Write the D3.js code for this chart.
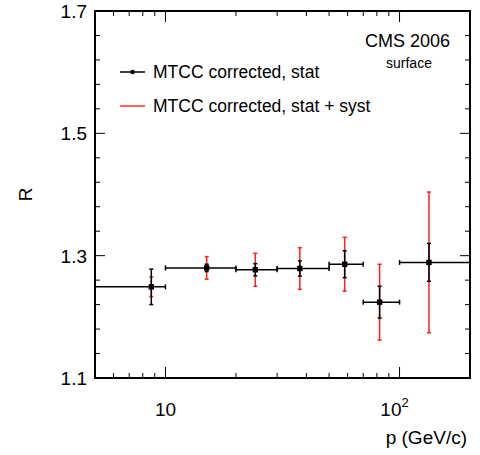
<!DOCTYPE html>
<html lang="en">
<head>
<meta charset="utf-8">
<title>MTCC charge ratio</title>
<style>
body {
  margin: 0;
  background: white;
}
text {
  font-family: "Liberation Sans", Arial, sans-serif;
  fill: black;
}
.tickLabel { font-size: 19px; }
.legendText { font-size: 17.5px; }
</style>
</head>
<body>
<div id="chart"></div>
<script src="https://d3js.org/d3.v7.min.js"></script>
<script>
// momentum bins (GeV/c) and mean momentum in each bin
var pMid  = [8.7, 15.0, 24.2, 37.5, 58.3, 82.2, 133.6];
var pLow  = [5, 10, 20, 30, 50, 70, 100];
var pHigh = [10, 20, 30, 50, 70, 100, 200];
// charge ratio and errors
var ratio   = [1.249, 1.280, 1.277, 1.279, 1.286, 1.224, 1.289];
var errStat = [0.029, 0.006, 0.010, 0.0125, 0.022, 0.026, 0.031];
var errTot  = [0.016, 0.0185, 0.027, 0.034, 0.044, 0.062, 0.115];
var yMajor = [1.1, 1.3, 1.5, 1.7];
var xMajor = [10, 100];
var xMinor = [6, 7, 8, 9, 20, 30, 40, 50, 60, 70, 80, 90];

var W = 480, H = 455;
var margin = { top: 11, right: 10, bottom: 77, left: 95 };
var width = W - margin.left - margin.right;
var height = H - margin.top - margin.bottom;

var x = d3.scaleLog().domain([5, 200]).range([0, width]);
var y = d3.scaleLinear().domain([1.1, 1.7]).range([height, 0]);

var svg = d3.select('#chart').append('svg')
  .attr('width', W).attr('height', H);
var g = svg.append('g')
  .attr('transform', 'translate(' + margin.left + ',' + margin.top + ')');

svg.append('defs').append('clipPath').attr('id', 'clip')
  .append('rect').attr('width', width).attr('height', height);

// ticks on all four sides, pointing inward
var yMinor = d3.range(1.14, 1.7, 0.04).filter(function(v) {
  return yMajor.every(function(m) { return Math.abs(m - v) > 0.001; });
});
var ticks = g.append('g').attr('stroke', 'black').attr('stroke-width', 1);
yMajor.forEach(function(v) {
  ticks.append('line').attr('x1', 0).attr('x2', 10).attr('y1', y(v)).attr('y2', y(v));
  ticks.append('line').attr('x1', width).attr('x2', width - 10).attr('y1', y(v)).attr('y2', y(v));
});
yMinor.forEach(function(v) {
  ticks.append('line').attr('x1', 0).attr('x2', 5).attr('y1', y(v)).attr('y2', y(v));
  ticks.append('line').attr('x1', width).attr('x2', width - 5).attr('y1', y(v)).attr('y2', y(v));
});
xMajor.forEach(function(v) {
  ticks.append('line').attr('x1', x(v)).attr('x2', x(v)).attr('y1', height).attr('y2', height - 11);
  ticks.append('line').attr('x1', x(v)).attr('x2', x(v)).attr('y1', 0).attr('y2', 11);
});
xMinor.forEach(function(v) {
  ticks.append('line').attr('x1', x(v)).attr('x2', x(v)).attr('y1', height).attr('y2', height - 5);
  ticks.append('line').attr('x1', x(v)).attr('x2', x(v)).attr('y1', 0).attr('y2', 5);
});

// tick labels
yMajor.forEach(function(v) {
  g.append('text').attr('class', 'tickLabel')
    .attr('x', -8).attr('y', y(v)).attr('dy', '0.36em')
    .attr('text-anchor', 'end').text(v.toFixed(1));
});
g.append('text').attr('class', 'tickLabel')
  .attr('x', x(10)).attr('y', height + 38).attr('text-anchor', 'middle').text('10');
var t100 = g.append('text').attr('class', 'tickLabel')
  .attr('x', x(100) - 5).attr('y', height + 38).attr('text-anchor', 'middle');
t100.append('tspan').text('10');
t100.append('tspan').attr('dy', -9).style('font-size', '13px').text('2');

// axis titles
g.append('text').attr('class', 'tickLabel')
  .attr('x', width - 3).attr('y', height + 66).attr('text-anchor', 'end')
  .text('p (GeV/c)');
g.append('text').attr('class', 'tickLabel')
  .attr('transform', 'translate(' + (-63) + ',' + y(1.4) + ') rotate(-90)')
  .attr('text-anchor', 'middle').text('R');

// data
var data = pMid.map(function(p, i) {
  return { p: p, lo: pLow[i], hi: pHigh[i], r: ratio[i], s: errStat[i], t: errTot[i] };
});
var plot = g.append('g').attr('clip-path', 'url(#clip)');

// stat + syst (red) drawn first
var red = plot.append('g').attr('stroke', '#ff2020').attr('stroke-width', 1.5);
data.forEach(function(d) {
  red.append('line').attr('x1', x(d.p)).attr('x2', x(d.p))
    .attr('y1', y(d.r - d.t)).attr('y2', y(d.r + d.t));
  [d.r - d.t, d.r + d.t].forEach(function(v) {
    red.append('line').attr('x1', x(d.p) - 2).attr('x2', x(d.p) + 2)
      .attr('y1', y(v)).attr('y2', y(v));
  });
});

// stat (black)
var blk = plot.append('g').attr('stroke', 'black').attr('stroke-width', 1.5);
data.forEach(function(d) {
  blk.append('line').attr('x1', x(d.lo)).attr('x2', x(d.hi))
    .attr('y1', y(d.r)).attr('y2', y(d.r));
  [d.lo, d.hi].forEach(function(v) {
    blk.append('line').attr('x1', x(v)).attr('x2', x(v))
      .attr('y1', y(d.r) - 2.5).attr('y2', y(d.r) + 2.5);
  });
  blk.append('line').attr('x1', x(d.p)).attr('x2', x(d.p))
    .attr('y1', y(d.r - d.s)).attr('y2', y(d.r + d.s));
  [d.r - d.s, d.r + d.s].forEach(function(v) {
    blk.append('line').attr('x1', x(d.p) - 2).attr('x2', x(d.p) + 2)
      .attr('y1', y(v)).attr('y2', y(v));
  });
});
plot.selectAll('rect.pt').data(data).enter().append('rect')
  .attr('class', 'pt')
  .attr('x', function(d) { return x(d.p) - 2.7; })
  .attr('y', function(d) { return y(d.r) - 2.7; })
  .attr('width', 5.4).attr('height', 5.4)
  .attr('fill', 'black');

// frame
g.append('rect').attr('width', width).attr('height', height)
  .attr('fill', 'none').attr('stroke', 'black').attr('stroke-width', 2);

// legend
var leg = svg.append('g');
leg.append('line').attr('x1', 120).attr('x2', 145).attr('y1', 72).attr('y2', 72)
  .attr('stroke', 'black').attr('stroke-width', 1.5);
leg.append('circle').attr('cx', 132.5).attr('cy', 72).attr('r', 2.2).attr('fill', 'black');
leg.append('text').attr('class', 'legendText').attr('x', 153).attr('y', 78)
  .text('MTCC corrected, stat');
leg.append('line').attr('x1', 120).attr('x2', 145).attr('y1', 106).attr('y2', 106)
  .attr('stroke', '#ff3030').attr('stroke-width', 1.5);
leg.append('text').attr('class', 'legendText').attr('x', 153).attr('y', 112)
  .text('MTCC corrected, stat + syst');

svg.append('text').attr('x', 450).attr('y', 47).attr('text-anchor', 'end')
  .style('font-size', '18px').text('CMS 2006');
svg.append('text').attr('x', 409).attr('y', 68).attr('text-anchor', 'middle')
  .style('font-size', '14px').text('surface');
</script>
</body>
</html>
